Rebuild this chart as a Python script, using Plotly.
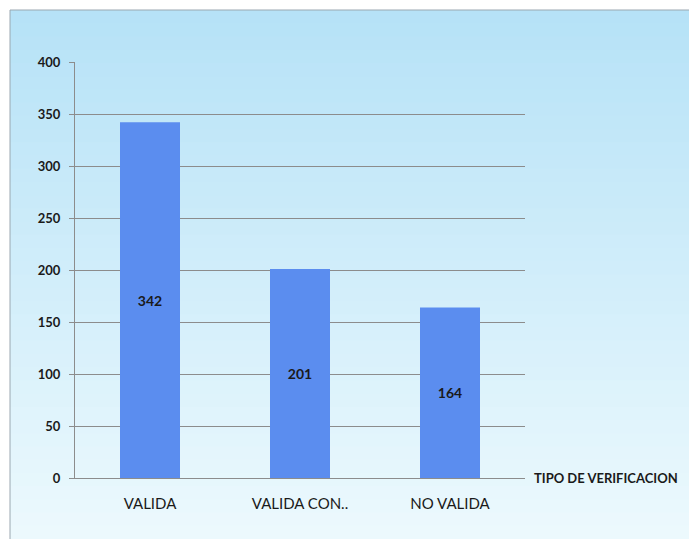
import plotly.graph_objects as go

# Tipo de verificacion counts
categories = ["VALIDA", "VALIDA CON...", "NO VALIDA"]
tick_text = ["VALIDA", "VALIDA CON..", "NO VALIDA"]
counts = [342, 201, 164]
y_ticks = [0, 50, 100, 150, 200, 250, 300, 350, 400]

BAR_COLOR = "#5b8def"
GRID = "#8c8c8c"
FONT = "Lato, Liberation Sans, Arial, sans-serif"

# page body adds an 8px offset, so the figure is sized to fill the rest
W, H = 689, 531
L, R, T, B = 67, 172, 54, 61
PW, PH = W - L - R, H - T - B

fig = go.Figure(
    go.Bar(
        x=categories,
        y=counts,
        text=[str(v) for v in counts],
        textposition="inside",
        insidetextanchor="middle",
        textfont=dict(family=FONT, size=14, color="#1a1a1a", weight="bold"),
        marker=dict(color=BAR_COLOR, line=dict(width=0)),
        width=0.4,
    )
)

# soft blue gradient background, built from thin overlapping bands
shapes = []
n = 40
x0, x1 = (2 - L) / PW, (W - L) / PW
y_top, y_bot = (T + PH - 2) / PH, (T + PH - H) / PH
step = (y_top - y_bot) / n
top_rgb = (182, 226, 247)
bot_rgb = (236, 249, 253)
for i in range(n):
    t = i / (n - 1)
    c = tuple(round(a + (b - a) * t) for a, b in zip(top_rgb, bot_rgb))
    ya = y_top - step * i
    yb = max(y_bot, ya - step * 1.6)
    shapes.append(dict(type="rect", xref="paper", yref="paper", x0=x0, x1=x1,
                       y0=yb, y1=ya, fillcolor="rgb(%d,%d,%d)" % c,
                       line=dict(width=0), layer="below"))
# frame lines at top and left
shapes.append(dict(type="line", xref="paper", yref="paper", x0=x0, x1=x1,
                   y0=y_top, y1=y_top, line=dict(color="#9aa7b0", width=1)))
shapes.append(dict(type="line", xref="paper", yref="paper", x0=x0, x1=x0,
                   y0=y_top, y1=y_bot, line=dict(color="#9aa7b0", width=1)))

fig.update_layout(
    width=W,
    height=H,
    margin=dict(l=L, r=R, t=T, b=B),
    paper_bgcolor="white",
    plot_bgcolor="white",
    showlegend=False,
    bargap=0.6,
    shapes=shapes,
    font=dict(family=FONT, color="#1a1a1a"),
    xaxis=dict(
        tickmode="array",
        tickvals=categories,
        ticktext=tick_text,
        tickfont=dict(family=FONT, size=15, color="#1a1a1a"),
        showline=True,
        linecolor=GRID,
        ticks="",
        ticklabelstandoff=12,
        showgrid=False,
    ),
    yaxis=dict(
        range=[0, 400],
        tickvals=y_ticks,
        tickfont=dict(family=FONT, size=13, color="#1a1a1a", weight="bold"),
        showgrid=True,
        gridcolor=GRID,
        gridwidth=1,
        showline=True,
        linecolor=GRID,
        ticks="outside",
        ticklen=5,
        tickcolor=GRID,
        ticklabelstandoff=6,
        zeroline=False,
    ),
    annotations=[
        dict(
            text="TIPO DE VERIFICACION",
            xref="paper", yref="paper",
            x=(532 - 8 - L) / PW, y=0,
            xanchor="left", yanchor="middle",
            showarrow=False,
            font=dict(family=FONT, size=13, color="#1a1a1a", weight="bold"),
        )
    ],
)

fig.write_html("out.html")
